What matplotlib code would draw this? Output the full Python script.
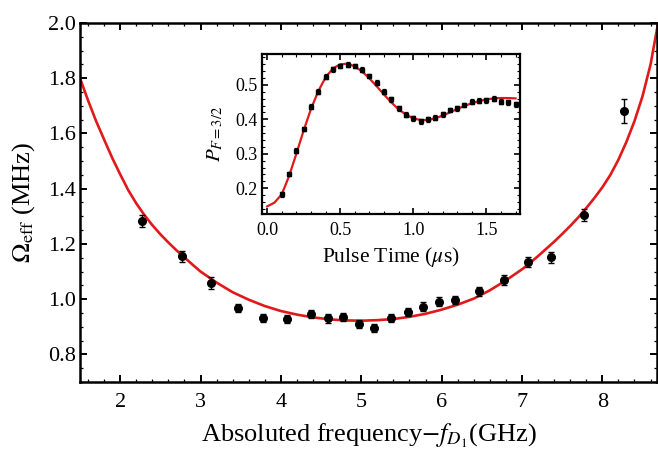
import matplotlib
matplotlib.use("Agg")
import matplotlib.pyplot as plt
from matplotlib.ticker import MultipleLocator

plt.rcParams['font.family'] = ['Liberation Serif', 'DejaVu Serif']
plt.rcParams['mathtext.fontset'] = 'stix'

# ---------------- main panel data ----------------
freq = [2.27, 2.77, 3.13, 3.47, 3.78, 4.07, 4.37, 4.58, 4.77, 4.97, 5.16,
        5.37, 5.58, 5.77, 5.97, 6.17, 6.47, 6.77, 7.07, 7.36, 7.77, 8.27]
omega = [1.284, 1.156, 1.057, 0.969, 0.932, 0.928, 0.947, 0.930, 0.936, 0.910, 0.895,
         0.932, 0.954, 0.973, 0.991, 0.998, 1.028, 1.068, 1.134, 1.152, 1.306, 1.681]
omega_err = [0.022, 0.020, 0.022, 0.015, 0.015, 0.015, 0.015, 0.015, 0.015, 0.015, 0.015,
             0.015, 0.015, 0.015, 0.015, 0.015, 0.015, 0.018, 0.018, 0.020, 0.022, 0.044]

fit_freq = [1.5, 1.6, 1.7, 1.8, 1.9, 2.0, 2.1, 2.2, 2.3, 2.4, 2.5, 2.6, 2.7, 2.8, 2.9,
            3.0, 3.2, 3.4, 3.6, 3.8, 4.0, 4.2, 4.4, 4.6, 4.8, 5.0, 5.2, 5.4, 5.6,
            5.8, 6.0, 6.2, 6.4, 6.6, 6.8, 7.0, 7.1, 7.2, 7.3, 7.4, 7.5, 7.6, 7.7,
            7.8, 7.9, 8.0, 8.1, 8.2, 8.3, 8.4, 8.5, 8.6, 8.7]
fit_omega = [1.80, 1.72, 1.645, 1.578, 1.512, 1.452, 1.395, 1.347, 1.305, 1.268,
             1.235, 1.205, 1.177, 1.151, 1.125, 1.100, 1.060, 1.025, 0.998, 0.975,
             0.957, 0.944, 0.934, 0.927, 0.923, 0.922, 0.924, 0.928, 0.936, 0.947,
             0.962, 0.980, 1.002, 1.032, 1.068, 1.108, 1.131, 1.156, 1.182, 1.208,
             1.236, 1.265, 1.296, 1.330, 1.366, 1.405, 1.450, 1.505, 1.570, 1.645,
             1.735, 1.850, 2.010]

# ---------------- inset data ----------------
pulse_t = [0.10, 0.15, 0.20, 0.25, 0.30, 0.35, 0.40, 0.45, 0.50, 0.55, 0.60,
           0.65, 0.70, 0.75, 0.80, 0.85, 0.90, 0.95, 1.00, 1.05, 1.10, 1.15,
           1.20, 1.25, 1.30, 1.35, 1.40, 1.45, 1.50, 1.55, 1.60, 1.65, 1.70]
prob = [0.182, 0.241, 0.309, 0.372, 0.437, 0.481, 0.524, 0.546, 0.555, 0.559, 0.555,
        0.544, 0.526, 0.507, 0.481, 0.458, 0.432, 0.413, 0.403, 0.395, 0.400, 0.405,
        0.415, 0.427, 0.432, 0.442, 0.451, 0.454, 0.456, 0.460, 0.451, 0.450, 0.444]
prob_err = [0.007] * len(pulse_t)

fit_t = [0.00, 0.05, 0.10, 0.15, 0.20, 0.25, 0.30, 0.35, 0.40, 0.45, 0.50, 0.55,
         0.60, 0.65, 0.70, 0.75, 0.80, 0.85, 0.90, 0.95, 1.00, 1.05, 1.10, 1.15,
         1.20, 1.25, 1.30, 1.35, 1.40, 1.45, 1.50, 1.55, 1.60, 1.65, 1.70]
fit_p = [0.147, 0.158, 0.182, 0.235, 0.300, 0.368, 0.430, 0.482, 0.522, 0.548, 0.560,
         0.562, 0.554, 0.539, 0.519, 0.496, 0.472, 0.449, 0.429, 0.414, 0.403, 0.398,
         0.398, 0.403, 0.411, 0.420, 0.430, 0.439, 0.447, 0.453, 0.458, 0.461, 0.462,
         0.462, 0.461]

RED = '#e01a1a'

fig = plt.figure(figsize=(6.58, 4.51), dpi=100)
ax = fig.add_axes([80/658, 69/451, 577/658, 359/451])

ax.plot(fit_freq, fit_omega, color=RED, lw=1.9, zorder=2, clip_on=True,
        solid_joinstyle='round')
ax.errorbar(freq, omega, yerr=omega_err, fmt='o', color='black', ms=5.5,
            elinewidth=1.0, capsize=2.5, capthick=1.0, zorder=3)

ax.set_xlim(1.5, 8.68)
ax.set_ylim(0.7, 2.0)
ax.xaxis.set_minor_locator(MultipleLocator(0.2))
ax.yaxis.set_minor_locator(MultipleLocator(0.05))
ax.set_xticks([2, 3, 4, 5, 6, 7, 8])
ax.set_yticks([0.8, 1.0, 1.2, 1.4, 1.6, 1.8, 2.0])
ax.set_yticklabels(['0.8', '1.0', '1.2', '1.4', '1.6', '1.8', '2.0'])
ax.tick_params(which='both', direction='in', top=True, right=True, labelsize=16)
ax.tick_params(which='major', length=5, width=1.4)
ax.tick_params(which='minor', length=2.5, width=0.9)
ax.tick_params(axis='x', which='major', pad=8)
ax.tick_params(axis='y', which='major', pad=3)
for s in ax.spines.values():
    s.set_linewidth(1.8)
ax.set_xlabel(r'Absoluted frequency$-f_{D_1}$(GHz)', fontsize=19, labelpad=7)
ax.set_ylabel(r'$\Omega_{\rm eff}$ (MHz)', fontsize=19, labelpad=8)

# ---------------- inset ----------------
ins = fig.add_axes([262/658, (451-214)/451, 258/658, 160/451])
ins.plot(fit_t, fit_p, color=RED, lw=1.6, zorder=2, solid_joinstyle='round')
ins.errorbar(pulse_t, prob, yerr=prob_err, fmt='s', color='black', ms=2.2,
             elinewidth=0.9, capsize=1.5, capthick=0.9, zorder=3)
ins.set_xlim(-0.035, 1.73)
ins.set_ylim(0.125, 0.59)
ins.set_xticks([0.0, 0.5, 1.0, 1.5])
ins.set_xticklabels(['0.0', '0.5', '1.0', '1.5'])
ins.set_yticks([0.2, 0.3, 0.4, 0.5])
ins.set_yticklabels(['0.2', '0.3', '0.4', '0.5'])
ins.xaxis.set_minor_locator(MultipleLocator(0.1))
ins.yaxis.set_minor_locator(MultipleLocator(0.02))
ins.tick_params(which='both', direction='in', top=True, right=True, labelsize=13)
ins.tick_params(which='major', length=4, width=1.2)
ins.tick_params(which='minor', length=2, width=0.8)
ins.tick_params(axis='x', which='major', pad=6)
for s in ins.spines.values():
    s.set_linewidth(1.6)
ins.set_xlabel(r'Pulse Time ($\mu$s)', fontsize=15.5, labelpad=4)
ins.set_ylabel(r'$P_{F=3/2}$', fontsize=15, labelpad=7)

fig.savefig('out.png', dpi=100)
